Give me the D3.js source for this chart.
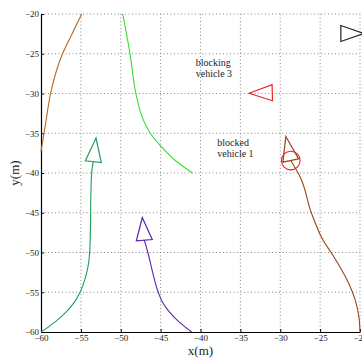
<!DOCTYPE html>
<html>
<head>
<meta charset="utf-8">
<script src="https://cdn.jsdelivr.net/npm/d3@7"></script>
<style>
  body { margin: 0; background: #fff; }
</style>
</head>
<body>
<div id="chart"></div>
<script>
// Axis ticks
const xTicks = [-60, -55, -50, -45, -40, -35, -30, -25, -20];
const yTicks = [-60, -55, -50, -45, -40, -35, -30, -25, -20];

// Trajectories [x, y] in metres
const trajBrownLeft = [[-54.9, -20], [-56.1, -22.5], [-57.3, -25], [-58.8, -30], [-59.35, -33.3],
  [-60, -37.3]];
const trajGreen = [[-49.75, -20], [-48.84, -25], [-48.1, -30], [-47.3, -33], [-46.3, -35],
  [-44.9, -36.7], [-43.2, -38.4], [-41, -40]];
const trajTeal = [[-60, -60], [-58.26, -58.75], [-56.86, -57.5], [-55.81, -56.25], [-55.1, -55],
  [-54.62, -53.75], [-54.26, -52.5], [-54.02, -51.25], [-53.9, -50], [-53.8, -47],
  [-53.75, -43], [-53.65, -40], [-53.44, -38.58]];
const trajPurple = [[-41.1, -60], [-42.66, -58.75], [-43.88, -57.5], [-44.76, -56.25],
  [-45.3, -55], [-46.0, -52.5], [-46.6, -50], [-47.05, -48.45]];
const trajBrownRight = [[-20, -60], [-20.15, -58], [-20.6, -56], [-21.6, -53.5], [-23.3, -50.5],
  [-24.6, -48.5], [-26.1, -45], [-27.5, -40.5], [-28.68, -38.43]];

// Vehicles: base centre and tip of each triangle
const vehicles = [
  { base: [-53.44, -38.58], tip: [-53.1, -35.6], color: "#1f9e5a" },
  { base: [-47.05, -48.45], tip: [-47.3, -45.6], color: "#5b22b0" },
  { base: [-28.68, -38.43], tip: [-29.3, -35.4], color: "#9a4617" },
  { base: [-31.0, -29.9], tip: [-33.9, -29.97], color: "#e8262a" },
  { base: [-22.4, -22.45], tip: [-19.5, -22.45], color: "#222222" }
];
const blockedCircle = { center: [-28.68, -38.43], radius: 1.17 };

const labels = [
  { lines: ["blocking", "vehicle 3"], at: [-40.6, -26.5] },
  { lines: ["blocked", "vehicle 1"], at: [-37.9, -36.6] }
];

const serif = "'Liberation Serif', 'Times New Roman', 'DejaVu Serif', serif";

const viewW = 362, viewH = 358;
const margin = { top: 14, right: 2, bottom: 26, left: 41 };
const width = viewW - margin.left - margin.right;
const height = viewH - margin.top - margin.bottom;

const svg = d3.select("#chart").append("svg")
  .attr("width", viewW)
  .attr("height", viewH)
  .style("display", "block")
  .append("g")
  .attr("transform", `translate(${margin.left},${margin.top})`);

const x = d3.scaleLinear().domain([-60, -20]).range([0, width]);
const y = d3.scaleLinear().domain([-60, -20]).range([height, 0]);

// Dotted grid
svg.append("g").selectAll("line")
  .data(xTicks.slice(1))
  .join("line")
  .attr("x1", d => x(d)).attr("x2", d => x(d))
  .attr("y1", 0).attr("y2", height)
  .attr("stroke", "#888").attr("stroke-width", 1)
  .attr("stroke-dasharray", "1,2.5");
svg.append("g").selectAll("line")
  .data(yTicks.slice(1))
  .join("line")
  .attr("x1", 0).attr("x2", width)
  .attr("y1", d => y(d)).attr("y2", d => y(d))
  .attr("stroke", "#888").attr("stroke-width", 1)
  .attr("stroke-dasharray", "1,2.5");

// Axes
const xAxis = svg.append("g")
  .attr("transform", `translate(0,${height})`)
  .call(d3.axisBottom(x).tickValues(xTicks).tickSizeInner(-3).tickSizeOuter(0).tickPadding(3)
    .tickFormat(d3.format("d")));
const yAxis = svg.append("g")
  .call(d3.axisLeft(y).tickValues(yTicks).tickSizeInner(-3).tickSizeOuter(0).tickPadding(2)
    .tickFormat(d3.format("d")));
[xAxis, yAxis].forEach(a => {
  a.attr("font-family", serif).attr("font-size", 9);
  a.select(".domain").attr("stroke", "#000").attr("stroke-width", 1.2);
  a.selectAll(".tick line").attr("stroke", "#000");
  a.selectAll(".tick text").attr("fill", "#222");
});

// Axis labels
svg.append("text")
  .attr("x", width / 2)
  .attr("y", height + 23)
  .attr("text-anchor", "middle")
  .attr("font-family", serif)
  .attr("font-size", 13)
  .attr("fill", "#222")
  .text("x(m)");
svg.append("text")
  .attr("transform", "rotate(-90)")
  .attr("x", -height / 2)
  .attr("y", -22)
  .attr("text-anchor", "middle")
  .attr("font-family", serif)
  .attr("font-size", 13)
  .attr("fill", "#222")
  .text("y(m)");

// Trajectories
const line = d3.line()
  .x(d => x(d[0]))
  .y(d => y(d[1]))
  .curve(d3.curveMonotoneY);
const trajs = [
  { pts: trajBrownLeft, color: "#b8651f" },
  { pts: trajGreen, color: "#2ee02e" },
  { pts: trajTeal, color: "#1f9e5a" },
  { pts: trajPurple, color: "#5b22b0" },
  { pts: trajBrownRight, color: "#9a4617" }
];
svg.append("g").selectAll("path")
  .data(trajs)
  .join("path")
  .attr("d", d => line(d.pts.slice().sort((a, b) => a[1] - b[1])))
  .attr("fill", "none")
  .attr("stroke", d => d.color)
  .attr("stroke-width", 1.1);

// Vehicle triangles
const halfBase = 8;
svg.append("g").selectAll("path")
  .data(vehicles)
  .join("path")
  .attr("d", d => {
    const bx = x(d.base[0]), by = y(d.base[1]);
    const tx = x(d.tip[0]), ty = y(d.tip[1]);
    const len = Math.hypot(tx - bx, ty - by);
    const px = -(ty - by) / len, py = (tx - bx) / len;
    return `M${tx},${ty}L${bx + px * halfBase},${by + py * halfBase}L${bx - px * halfBase},${by - py * halfBase}Z`;
  })
  .attr("fill", "none")
  .attr("stroke", d => d.color)
  .attr("stroke-width", 1.2);

// Red circle around blocked vehicle
svg.append("circle")
  .attr("cx", x(blockedCircle.center[0]))
  .attr("cy", y(blockedCircle.center[1]))
  .attr("r", x(blockedCircle.center[0] + blockedCircle.radius) - x(blockedCircle.center[0]))
  .attr("fill", "none")
  .attr("stroke", "#ee2020")
  .attr("stroke-width", 1.1);

// Text labels
labels.forEach(l => {
  const t = svg.append("text")
    .attr("x", x(l.at[0]))
    .attr("y", y(l.at[1]))
    .attr("font-family", serif)
    .attr("font-size", 10)
    .attr("fill", "#222");
  l.lines.forEach((s, i) => {
    t.append("tspan")
      .attr("x", x(l.at[0]))
      .attr("dy", i === 0 ? 0 : "1.15em")
      .text(s);
  });
});
</script>
</body>
</html>
